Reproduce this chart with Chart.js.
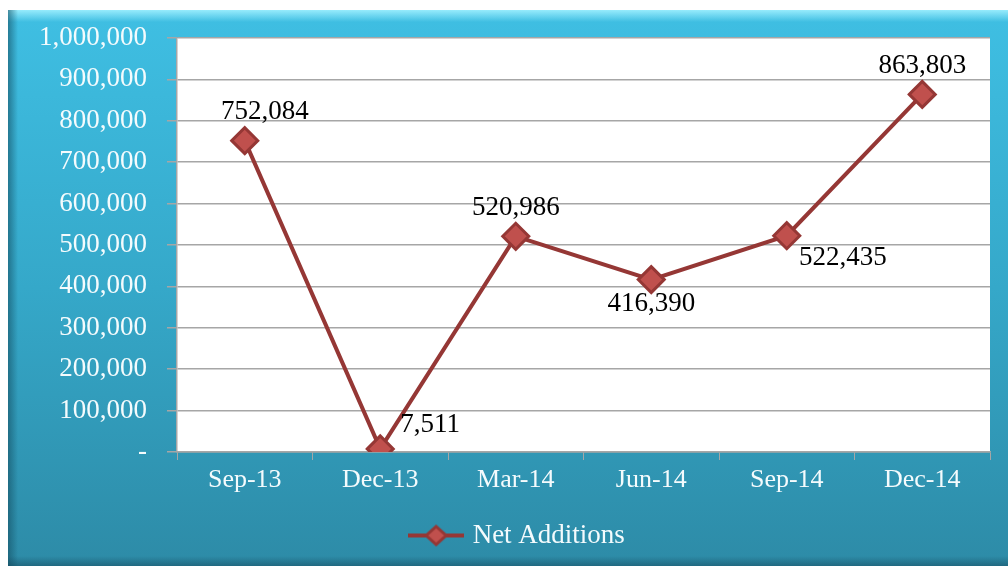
<!DOCTYPE html>
<html>
<head>
<meta charset="utf-8">
<script src="https://cdn.jsdelivr.net/npm/chart.js@4/dist/chart.umd.min.js"></script>
<style>
  html, body { margin: 0; padding: 0; background: #ffffff; }
  #wrap { width: 1008px; height: 569px; position: relative; }
</style>
</head>
<body>
<div id="wrap"><canvas id="c" width="1008" height="569"></canvas></div>
<script>
// ---- data ----
const categories = ['Sep-13', 'Dec-13', 'Mar-14', 'Jun-14', 'Sep-14', 'Dec-14'];
const netAdditions = [752084, 7511, 520986, 416390, 522435, 863803];
const seriesName = 'Net Additions';
const yTickValues = [0, 100000, 200000, 300000, 400000, 500000, 600000, 700000, 800000, 900000, 1000000];
// where each data label sits relative to its point
const labelPlacement = ['aboveRight', 'right', 'above', 'below', 'belowRight', 'above'];

const SERIF = '"Liberation Serif", "Times New Roman", serif';
const LINE_COLOR = '#953735';
const MARK_FILL = '#c0504d';

function fmt(v) { return v === 0 ? '-' : v.toLocaleString('en-US'); }

// legend symbol: line with a diamond
function legendSymbol() {
  const c = document.createElement('canvas');
  c.width = 56; c.height = 26;
  const g = c.getContext('2d');
  g.strokeStyle = LINE_COLOR; g.lineWidth = 4;
  g.beginPath(); g.moveTo(0, 13); g.lineTo(56, 13); g.stroke();
  g.beginPath(); g.moveTo(28, 4); g.lineTo(38, 13); g.lineTo(28, 22); g.lineTo(18, 13); g.closePath();
  g.fillStyle = MARK_FILL; g.fill(); g.lineWidth = 3; g.strokeStyle = LINE_COLOR; g.stroke();
  return c;
}

const bgPlugin = {
  id: 'bg',
  afterLayout(chart) {
    const lg = chart.legend;
    if (lg) { lg.left += 20; lg.right += 20; }
  },
  beforeDraw(chart) {
    const ctx = chart.ctx;
    const W = chart.width, H = chart.height;
    ctx.save();
    ctx.fillStyle = '#ffffff';
    ctx.fillRect(0, 0, W, H);
    const x0 = 8, y0 = 10, x1 = W, y1 = 566;
    const grd = ctx.createLinearGradient(0, y0, 0, y1);
    grd.addColorStop(0, '#3fbfe3');
    grd.addColorStop(0.5, '#35a8c9');
    grd.addColorStop(1, '#2d8ba7');
    ctx.fillStyle = grd;
    ctx.fillRect(x0, y0, x1 - x0, y1 - y0);
    const tg = ctx.createLinearGradient(0, y0, 0, y0 + 12);
    tg.addColorStop(0, 'rgba(160,240,255,0.9)');
    tg.addColorStop(1, 'rgba(160,240,255,0)');
    ctx.fillStyle = tg;
    ctx.fillRect(x0, y0, x1 - x0, 12);
    const lg = ctx.createLinearGradient(x0, 0, x0 + 10, 0);
    lg.addColorStop(0, 'rgba(20,80,100,0.6)');
    lg.addColorStop(1, 'rgba(20,80,100,0)');
    ctx.fillStyle = lg;
    ctx.fillRect(x0, y0, 10, y1 - y0);
    const bg = ctx.createLinearGradient(0, y1 - 10, 0, y1);
    bg.addColorStop(0, 'rgba(20,70,90,0)');
    bg.addColorStop(1, 'rgba(20,70,90,0.5)');
    ctx.fillStyle = bg;
    ctx.fillRect(x0, y1 - 10, x1 - x0, 10);
    const a = chart.chartArea;
    ctx.fillStyle = '#ffffff';
    ctx.fillRect(a.left, a.top, a.right - a.left, a.bottom - a.top);
    ctx.restore();
  }
};

const labelPlugin = {
  id: 'dataLabels',
  afterDatasetsDraw(chart) {
    const ctx = chart.ctx;
    const meta = chart.getDatasetMeta(0);
    ctx.save();
    ctx.font = '27px ' + SERIF;
    ctx.fillStyle = '#000000';
    ctx.textBaseline = 'middle';
    meta.data.forEach((pt, i) => {
      const txt = fmt(chart.data.datasets[0].data[i]);
      let x = pt.x, y = pt.y;
      ctx.textAlign = 'center';
      switch (labelPlacement[i]) {
        case 'above': y -= 28; break;
        case 'aboveRight': y -= 29; x += 20; break;
        case 'below': y += 24; break;
        case 'belowRight': y += 22; x += 56; break;
        case 'right': x += 20; y -= 24; ctx.textAlign = 'left'; break;
      }
      ctx.fillText(txt, x, y);
    });
    ctx.restore();
  }
};

new Chart(document.getElementById('c'), {
  type: 'line',
  data: {
    labels: categories,
    datasets: [{
      label: seriesName,
      data: netAdditions,
      borderColor: LINE_COLOR,
      borderWidth: 4,
      pointStyle: 'rectRot',
      pointRadius: 13,
      pointBorderWidth: 3,
      pointBackgroundColor: MARK_FILL,
      pointBorderColor: LINE_COLOR,
      tension: 0
    }]
  },
  options: {
    responsive: false,
    animation: false,
    devicePixelRatio: 1,
    layout: { padding: { left: 8, right: 18, top: 38, bottom: 10 } },
    plugins: {
      tooltip: { enabled: false },
      legend: {
        position: 'bottom',
        labels: {
          font: { family: SERIF, size: 27 },
          color: '#f4fbfd',
          usePointStyle: true,
          pointStyleWidth: 46,
          padding: 8,
          generateLabels(chart) {
            return [{
              text: seriesName,
              pointStyle: legendSymbol(),
              fillStyle: MARK_FILL,
              strokeStyle: LINE_COLOR,
              lineWidth: 0,
              fontColor: '#f4fbfd',
              datasetIndex: 0
            }];
          }
        }
      }
    },
    scales: {
      x: {
        offset: true,
        grid: { display: true, offset: true, drawOnChartArea: false, tickLength: 8, color: '#a6a6a6', lineWidth: 1 },
        border: { display: true, color: '#a6a6a6', width: 1.5 },
        ticks: { font: { family: SERIF, size: 26 }, color: '#f4fbfd', padding: 5, maxRotation: 0 },
        afterFit(s) { s.height = 62; }
      },
      y: {
        min: 0, max: 1000000,
        afterBuildTicks(s) { s.ticks = yTickValues.map(v => ({ value: v })); },
        grid: { color: '#a6a6a6', lineWidth: 1.5, tickLength: 10 },
        border: { display: true, color: '#a6a6a6', width: 1.5 },
        ticks: { font: { family: SERIF, size: 27 }, color: '#f4fbfd', padding: 20, callback: v => fmt(v) },
        afterFit(s) { s.width = 169; }
      }
    }
  },
  plugins: [bgPlugin, labelPlugin]
});
</script>
</body>
</html>
